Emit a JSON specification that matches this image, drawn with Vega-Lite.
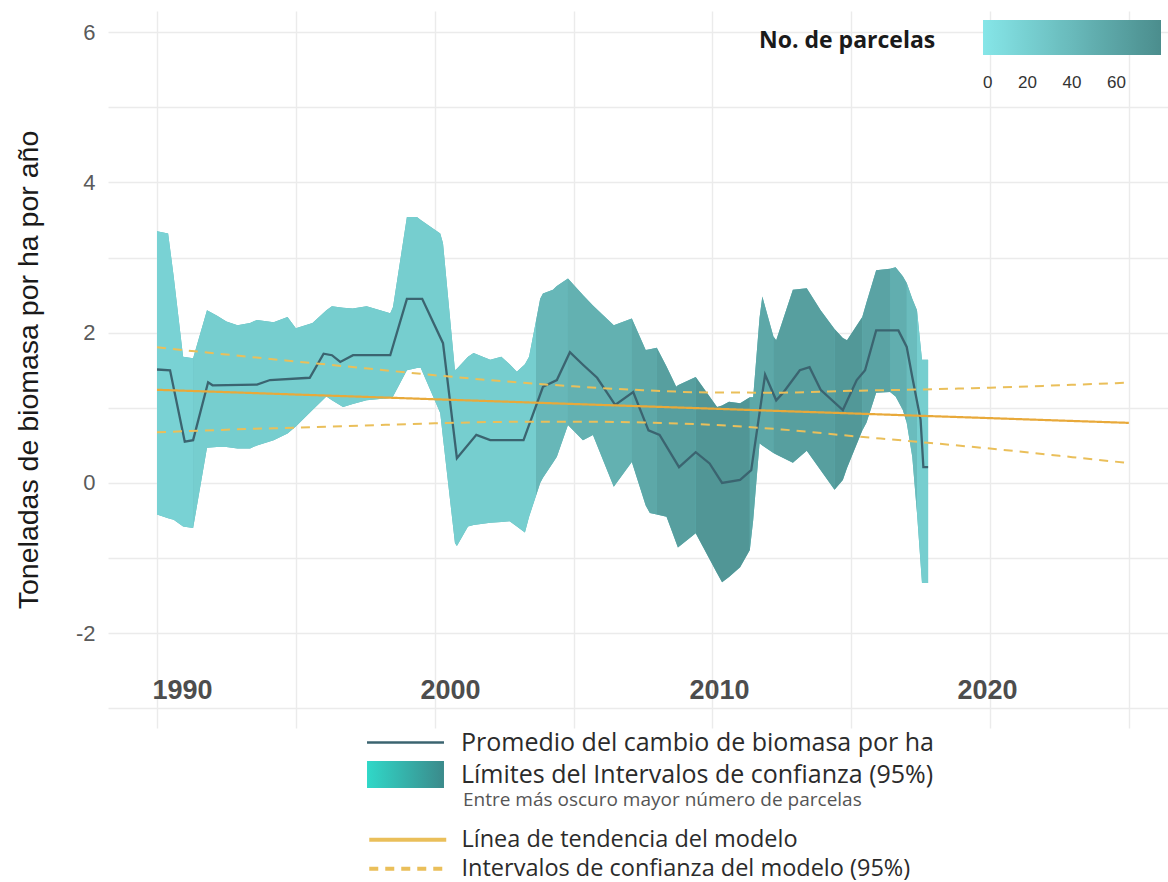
{
  "$schema": "https://vega.github.io/schema/vega-lite/v6.json",
  "width": 1060,
  "height": 717,
  "autosize": {"type": "none"},
  "padding": {"left": 108, "top": 11, "right": 0, "bottom": 154},
  "background": "white",
  "config": {"view": {"stroke": null}, "font": "Liberation Sans"},
  "datasets": {
    "band": [
      {"t": 1990.0, "hi": 3.35, "lo": -0.42, "g": "A", "n": 18},
      {"t": 1990.4, "hi": 3.32, "lo": -0.47, "g": "A", "n": 18},
      {"t": 1990.6, "hi": 2.75, "lo": -0.49, "g": "A", "n": 18},
      {"t": 1990.94, "hi": 1.68, "lo": -0.58, "g": "A", "n": 18},
      {"t": 1991.3, "hi": 1.66, "lo": -0.60, "g": "A", "n": 18},
      {"t": 1991.3, "hi": 1.66, "lo": -0.60, "g": "B", "n": 22},
      {"t": 1991.8, "hi": 2.30, "lo": 0.47, "g": "B", "n": 22},
      {"t": 1992.15, "hi": 2.23, "lo": 0.48, "g": "B", "n": 22},
      {"t": 1992.5, "hi": 2.15, "lo": 0.48, "g": "B", "n": 22},
      {"t": 1992.9, "hi": 2.10, "lo": 0.46, "g": "B", "n": 22},
      {"t": 1993.35, "hi": 2.13, "lo": 0.46, "g": "B", "n": 22},
      {"t": 1993.6, "hi": 2.17, "lo": 0.50, "g": "B", "n": 22},
      {"t": 1994.2, "hi": 2.14, "lo": 0.57, "g": "B", "n": 22},
      {"t": 1994.7, "hi": 2.21, "lo": 0.66, "g": "B", "n": 22},
      {"t": 1995.0, "hi": 2.06, "lo": 0.75, "g": "B", "n": 22},
      {"t": 1995.6, "hi": 2.13, "lo": 0.97, "g": "B", "n": 22},
      {"t": 1996.1, "hi": 2.30, "lo": 1.15, "g": "B", "n": 22},
      {"t": 1996.3, "hi": 2.35, "lo": 1.10, "g": "B", "n": 22},
      {"t": 1996.7, "hi": 2.33, "lo": 1.01, "g": "B", "n": 22},
      {"t": 1997.05, "hi": 2.32, "lo": 1.05, "g": "B", "n": 22},
      {"t": 1997.55, "hi": 2.35, "lo": 1.10, "g": "B", "n": 22},
      {"t": 1998.4, "hi": 2.26, "lo": 1.13, "g": "B", "n": 22},
      {"t": 1998.5, "hi": 2.34, "lo": 1.15, "g": "B", "n": 22},
      {"t": 1999.0, "hi": 3.54, "lo": 1.50, "g": "B", "n": 22},
      {"t": 1999.36, "hi": 3.54, "lo": 1.53, "g": "B", "n": 22},
      {"t": 1999.5, "hi": 3.50, "lo": 1.53, "g": "B", "n": 22},
      {"t": 2000.2, "hi": 3.32, "lo": 0.93, "g": "B", "n": 22},
      {"t": 2000.3, "hi": 3.19, "lo": 0.60, "g": "B", "n": 22},
      {"t": 2000.73, "hi": 1.50, "lo": -0.80, "g": "B", "n": 22},
      {"t": 2000.8, "hi": 1.52, "lo": -0.84, "g": "B", "n": 22},
      {"t": 2001.2, "hi": 1.68, "lo": -0.58, "g": "B", "n": 22},
      {"t": 2001.4, "hi": 1.73, "lo": -0.56, "g": "B", "n": 22},
      {"t": 2002.0, "hi": 1.64, "lo": -0.53, "g": "B", "n": 22},
      {"t": 2002.4, "hi": 1.68, "lo": -0.52, "g": "B", "n": 22},
      {"t": 2002.7, "hi": 1.58, "lo": -0.51, "g": "B", "n": 22},
      {"t": 2002.96, "hi": 1.48, "lo": -0.58, "g": "B", "n": 22},
      {"t": 2003.25, "hi": 1.58, "lo": -0.66, "g": "B", "n": 22},
      {"t": 2003.4, "hi": 1.68, "lo": -0.45, "g": "B", "n": 22},
      {"t": 2003.65, "hi": 2.16, "lo": -0.17, "g": "B", "n": 22},
      {"t": 2003.65, "hi": 2.16, "lo": -0.17, "g": "C", "n": 42},
      {"t": 2003.8, "hi": 2.45, "lo": 0.00, "g": "C", "n": 42},
      {"t": 2003.9, "hi": 2.52, "lo": 0.07, "g": "C", "n": 42},
      {"t": 2004.26, "hi": 2.57, "lo": 0.27, "g": "C", "n": 42},
      {"t": 2004.4, "hi": 2.62, "lo": 0.35, "g": "C", "n": 42},
      {"t": 2004.8, "hi": 2.72, "lo": 0.77, "g": "C", "n": 42},
      {"t": 2004.8, "hi": 2.72, "lo": 0.77, "g": "D", "n": 48},
      {"t": 2005.34, "hi": 2.50, "lo": 0.57, "g": "D", "n": 48},
      {"t": 2005.7, "hi": 2.36, "lo": 0.64, "g": "D", "n": 48},
      {"t": 2006.45, "hi": 2.10, "lo": -0.05, "g": "D", "n": 48},
      {"t": 2007.1, "hi": 2.19, "lo": 0.28, "g": "D", "n": 48},
      {"t": 2007.1, "hi": 2.19, "lo": 0.28, "g": "E", "n": 56},
      {"t": 2007.6, "hi": 1.77, "lo": -0.30, "g": "E", "n": 56},
      {"t": 2007.75, "hi": 1.78, "lo": -0.40, "g": "E", "n": 56},
      {"t": 2008.0, "hi": 1.80, "lo": -0.42, "g": "E", "n": 56},
      {"t": 2008.0, "hi": 1.80, "lo": -0.42, "g": "F", "n": 64},
      {"t": 2008.35, "hi": 1.55, "lo": -0.45, "g": "F", "n": 64},
      {"t": 2008.7, "hi": 1.28, "lo": -0.80, "g": "F", "n": 64},
      {"t": 2008.76, "hi": 1.30, "lo": -0.86, "g": "F", "n": 64},
      {"t": 2009.4, "hi": 1.41, "lo": -0.67, "g": "F", "n": 64},
      {"t": 2009.4, "hi": 1.41, "lo": -0.67, "g": "G", "n": 72},
      {"t": 2010.17, "hi": 1.01, "lo": -1.20, "g": "G", "n": 72},
      {"t": 2010.35, "hi": 1.03, "lo": -1.32, "g": "G", "n": 72},
      {"t": 2010.6, "hi": 1.08, "lo": -1.25, "g": "G", "n": 72},
      {"t": 2011.0, "hi": 1.06, "lo": -1.12, "g": "G", "n": 72},
      {"t": 2011.35, "hi": 1.14, "lo": -0.89, "g": "G", "n": 72},
      {"t": 2011.35, "hi": 1.14, "lo": -0.89, "g": "H", "n": 56},
      {"t": 2011.47, "hi": 1.14, "lo": -0.50, "g": "H", "n": 56},
      {"t": 2011.7, "hi": 2.20, "lo": 0.53, "g": "H", "n": 56},
      {"t": 2011.8, "hi": 2.48, "lo": 0.50, "g": "H", "n": 56},
      {"t": 2012.2, "hi": 1.95, "lo": 0.40, "g": "H", "n": 56},
      {"t": 2012.2, "hi": 1.95, "lo": 0.40, "g": "I", "n": 64},
      {"t": 2012.3, "hi": 1.90, "lo": 0.38, "g": "I", "n": 64},
      {"t": 2012.9, "hi": 2.57, "lo": 0.27, "g": "I", "n": 64},
      {"t": 2013.4, "hi": 2.59, "lo": 0.43, "g": "I", "n": 64},
      {"t": 2013.9, "hi": 2.30, "lo": 0.17, "g": "I", "n": 64},
      {"t": 2014.4, "hi": 2.05, "lo": -0.09, "g": "I", "n": 64},
      {"t": 2014.4, "hi": 2.05, "lo": -0.09, "g": "J", "n": 70},
      {"t": 2014.7, "hi": 1.93, "lo": 0.04, "g": "J", "n": 70},
      {"t": 2014.85, "hi": 1.90, "lo": 0.20, "g": "J", "n": 70},
      {"t": 2015.4, "hi": 2.21, "lo": 0.70, "g": "J", "n": 70},
      {"t": 2015.4, "hi": 2.21, "lo": 0.70, "g": "K", "n": 60},
      {"t": 2015.55, "hi": 2.40, "lo": 0.80, "g": "K", "n": 60},
      {"t": 2015.9, "hi": 2.83, "lo": 1.20, "g": "K", "n": 60},
      {"t": 2016.4, "hi": 2.85, "lo": 1.21, "g": "K", "n": 60},
      {"t": 2016.4, "hi": 2.85, "lo": 1.21, "g": "L", "n": 50},
      {"t": 2016.6, "hi": 2.87, "lo": 1.15, "g": "L", "n": 50},
      {"t": 2016.86, "hi": 2.75, "lo": 0.97, "g": "L", "n": 50},
      {"t": 2017.0, "hi": 2.66, "lo": 0.80, "g": "L", "n": 50},
      {"t": 2017.0, "hi": 2.66, "lo": 0.80, "g": "M", "n": 38},
      {"t": 2017.2, "hi": 2.45, "lo": 0.35, "g": "M", "n": 38},
      {"t": 2017.37, "hi": 2.30, "lo": -0.40, "g": "M", "n": 38},
      {"t": 2017.37, "hi": 2.30, "lo": -0.40, "g": "N", "n": 22},
      {"t": 2017.55, "hi": 1.64, "lo": -1.33, "g": "N", "n": 22},
      {"t": 2017.77, "hi": 1.64, "lo": -1.33, "g": "N", "n": 22}
    ],
    "mean": [
      {"t": 1990.0, "m": 1.51}, {"t": 1990.47, "m": 1.50}, {"t": 1991.0, "m": 0.55},
      {"t": 1991.3, "m": 0.57}, {"t": 1991.84, "m": 1.34}, {"t": 1992.0, "m": 1.30},
      {"t": 1993.6, "m": 1.31}, {"t": 1994.07, "m": 1.37}, {"t": 1995.5, "m": 1.40},
      {"t": 1996.0, "m": 1.72}, {"t": 1996.3, "m": 1.70}, {"t": 1996.6, "m": 1.61},
      {"t": 1997.06, "m": 1.70}, {"t": 1998.4, "m": 1.70}, {"t": 1999.0, "m": 2.45},
      {"t": 1999.55, "m": 2.45}, {"t": 2000.3, "m": 1.86}, {"t": 2000.8, "m": 0.33},
      {"t": 2001.5, "m": 0.64}, {"t": 2002.0, "m": 0.57}, {"t": 2003.2, "m": 0.57},
      {"t": 2003.9, "m": 1.28}, {"t": 2004.4, "m": 1.37}, {"t": 2004.87, "m": 1.74},
      {"t": 2005.35, "m": 1.57}, {"t": 2005.85, "m": 1.40}, {"t": 2006.5, "m": 1.04},
      {"t": 2007.15, "m": 1.21}, {"t": 2007.7, "m": 0.70}, {"t": 2008.1, "m": 0.64},
      {"t": 2008.8, "m": 0.21}, {"t": 2009.4, "m": 0.41}, {"t": 2009.9, "m": 0.26},
      {"t": 2010.35, "m": 0.00}, {"t": 2011.0, "m": 0.04}, {"t": 2011.4, "m": 0.17},
      {"t": 2011.9, "m": 1.44}, {"t": 2012.3, "m": 1.10}, {"t": 2012.55, "m": 1.20},
      {"t": 2013.15, "m": 1.50}, {"t": 2013.5, "m": 1.54}, {"t": 2013.9, "m": 1.24},
      {"t": 2014.7, "m": 0.97}, {"t": 2015.2, "m": 1.37}, {"t": 2015.5, "m": 1.50},
      {"t": 2015.9, "m": 2.03}, {"t": 2016.7, "m": 2.03}, {"t": 2017.0, "m": 1.81},
      {"t": 2017.2, "m": 1.41}, {"t": 2017.5, "m": 0.84}, {"t": 2017.6, "m": 0.21},
      {"t": 2017.77, "m": 0.21}
    ],
    "trend": [
      {"t": 1990.0, "fit": 1.240, "upr": 1.805, "lwr": 0.675},
      {"t": 1992.5, "fit": 1.209, "upr": 1.709, "lwr": 0.709},
      {"t": 1995.0, "fit": 1.177, "upr": 1.617, "lwr": 0.737},
      {"t": 1997.5, "fit": 1.146, "upr": 1.526, "lwr": 0.766},
      {"t": 2000.0, "fit": 1.114, "upr": 1.434, "lwr": 0.794},
      {"t": 2002.5, "fit": 1.083, "upr": 1.353, "lwr": 0.813},
      {"t": 2005.0, "fit": 1.051, "upr": 1.286, "lwr": 0.816},
      {"t": 2007.5, "fit": 1.020, "upr": 1.235, "lwr": 0.805},
      {"t": 2010.0, "fit": 0.989, "upr": 1.204, "lwr": 0.774},
      {"t": 2012.5, "fit": 0.957, "upr": 1.202, "lwr": 0.712},
      {"t": 2015.0, "fit": 0.926, "upr": 1.226, "lwr": 0.626},
      {"t": 2017.5, "fit": 0.894, "upr": 1.244, "lwr": 0.544},
      {"t": 2020.0, "fit": 0.863, "upr": 1.268, "lwr": 0.458},
      {"t": 2022.5, "fit": 0.831, "upr": 1.300, "lwr": 0.362},
      {"t": 2025.0, "fit": 0.800, "upr": 1.335, "lwr": 0.265}
    ]
  },
  "layer": [
    {
      "data": {"name": "band"},
      "mark": {"type": "area", "color": "#64b8ba", "strokeWidth": 0},
      "encoding": {
        "x": {
          "field": "t", "type": "quantitative", "title": null,
          "scale": {"domain": [1988.235, 2026.41], "nice": false, "zero": false},
          "axis": {
            "values": [1990, 1990.9, 1995, 2000, 2000.55, 2005, 2010, 2010.24, 2015, 2019.89, 2020, 2025],
            "title": null, "domain": false, "ticks": false, "grid": true,
            "gridColor": "#ebebeb", "gridWidth": 1.4,
            "gridOpacity": {"condition": {"test": "datum.value % 5 != 0", "value": 0}, "value": 1},
            "labelExpr": "datum.value % 5 != 0 ? format(round(datum.value / 10) * 10, 'd') : ''",
            "labelFont": "Liberation Sans", "labelFontSize": 27, "labelFontWeight": "bold",
            "labelColor": "#4d4d4d", "labelPadding": -38, "labelBaseline": "middle",
            "labelFlush": false, "labelOverlap": false, "labelBound": false
          }
        },
        "y": {
          "field": "lo", "type": "quantitative", "title": "Toneladas de biomasa por ha por año",
          "scale": {"domain": [-3.26, 6.28], "nice": false, "zero": false},
          "axis": {
            "values": [-3, -2, -1, 0, 1, 2, 3, 4, 5, 6],
            "labelExpr": "datum.value % 2 === 0 ? '' + datum.value : ''",
            "titleFont": "Liberation Sans", "titleFontSize": 28.5, "titleFontWeight": "normal",
            "titleColor": "#1a1a1a", "titlePadding": 32,
            "labelFont": "Liberation Sans", "labelFontSize": 22, "labelColor": "#5a5a5a",
            "labelPadding": 13, "ticks": false, "domain": false,
            "gridColor": "#ebebeb", "gridWidth": 1.4
          }
        },
        "y2": {"field": "hi"}
      }
    },
    {
      "data": {"name": "band"},
      "mark": {"type": "area", "strokeWidth": 0},
      "encoding": {
        "x": {"field": "t", "type": "quantitative", "title": null, "scale": {"domain": [1988.235, 2026.41], "nice": false, "zero": false}},
        "y": {"field": "lo", "type": "quantitative", "title": "Toneladas de biomasa por ha por año", "scale": {"domain": [-3.26, 6.28], "nice": false, "zero": false}},
        "y2": {"field": "hi"},
        "detail": {"field": "g"},
        "color": {
          "field": "n", "type": "quantitative",
          "scale": {"domain": [0, 80], "range": ["#86e6e8", "#4b8d8d"], "interpolate": "rgb", "nice": false, "zero": false},
          "legend": {
            "orient": "none", "legendX": 651, "legendY": 9, "direction": "horizontal",
            "title": "No. de parcelas", "titleOrient": "left", "titleFont": "Open Sans",
            "titleFontSize": 23, "titleFontWeight": "bold", "titleColor": "#1a1a1a",
            "titleLimit": 400, "titlePadding": 47, "titleBaseline": "middle",
            "gradientLength": 178, "gradientThickness": 35, "gradientStrokeWidth": 0,
            "values": [0, 20, 40, 60],
            "labelFont": "Liberation Sans", "labelFontSize": 17, "labelColor": "#333333", "labelOffset": 20,
            "encode": {"title": {"update": {"dy": {"value": 3}}}}
          }
        }
      }
    },
    {
      "mark": {"type": "rule", "color": "#000000", "strokeWidth": 2},
      "encoding": {"y": {"datum": 0, "type": "quantitative", "title": "Toneladas de biomasa por ha por año", "scale": {"domain": [-3.26, 6.28], "nice": false, "zero": false}}}
    },
    {
      "data": {"name": "mean"},
      "mark": {"type": "line", "strokeWidth": 2.3},
      "encoding": {
        "x": {"field": "t", "type": "quantitative", "title": null, "scale": {"domain": [1988.235, 2026.41], "nice": false, "zero": false}},
        "y": {"field": "m", "type": "quantitative", "title": "Toneladas de biomasa por ha por año", "scale": {"domain": [-3.26, 6.28], "nice": false, "zero": false}},
        "stroke": {
          "datum": "Promedio del cambio de biomasa por ha", "type": "nominal",
          "scale": {"domain": ["Promedio del cambio de biomasa por ha", "Límites del Intervalos de confianza (95%)"], "range": ["#3b6470", "transparent"]},
          "legend": {
            "orient": "none", "legendX": 254, "legendY": 719,
            "title": "Entre más oscuro mayor número de parcelas",
            "titleOrient": "bottom", "titleAnchor": "start", "titleFont": "Open Sans",
            "titleFontSize": 19, "titleFontWeight": "normal", "titleColor": "#555555",
            "titleLimit": 700, "titlePadding": -2,
            "labelFont": "Open Sans", "labelFontSize": 25, "labelColor": "#2b2b2b",
            "labelLimit": 800, "labelOffset": 43,
            "symbolType": "M-5,0H5", "symbolSize": 237, "symbolOffset": 31,
            "rowPadding": 0,
            "encode": {
              "symbols": {"update": {
                "shape": [{"test": "datum.index === 1", "value": "M-5,-1.75H5V1.75H-5Z"}, {"value": "M-5,0H5"}],
                "fill": [{"test": "datum.index === 1", "value": {"gradient": "linear", "x1": 0, "y1": 0, "x2": 1, "y2": 0, "stops": [{"offset": 0, "color": "#30d8c8"}, {"offset": 1, "color": "#3b8a8b"}]}}, {"value": "transparent"}],
                "strokeWidth": {"value": 2.5},
                "opacity": {"value": 1}
              }},
              "title": {"update": {"dx": {"value": 101}}}
            }
          }
        }
      }
    },
    {
      "data": {"name": "trend"},
      "transform": [{"fold": ["upr", "lwr"], "as": ["k", "v"]}],
      "mark": {"type": "line", "color": "#eabf5a", "strokeWidth": 2, "interpolate": "monotone"},
      "encoding": {
        "x": {"field": "t", "type": "quantitative", "title": null, "scale": {"domain": [1988.235, 2026.41], "nice": false, "zero": false}},
        "y": {"field": "v", "type": "quantitative", "title": "Toneladas de biomasa por ha por año", "scale": {"domain": [-3.26, 6.28], "nice": false, "zero": false}},
        "detail": {"field": "k"},
        "strokeDash": {
          "datum": "Intervalos de confianza del modelo (95%)", "type": "nominal",
          "scale": {"domain": ["Línea de tendencia del modelo", "Intervalos de confianza del modelo (95%)"], "range": [[1, 0], [9, 7]]}
        }
      }
    },
    {
      "data": {"name": "trend"},
      "mark": {"type": "line", "color": "#e8a93a", "strokeWidth": 2.2},
      "encoding": {
        "x": {"field": "t", "type": "quantitative", "title": null, "scale": {"domain": [1988.235, 2026.41], "nice": false, "zero": false}},
        "y": {"field": "fit", "type": "quantitative", "title": "Toneladas de biomasa por ha por año", "scale": {"domain": [-3.26, 6.28], "nice": false, "zero": false}},
        "strokeDash": {
          "datum": "Línea de tendencia del modelo", "type": "nominal",
          "scale": {"domain": ["Línea de tendencia del modelo", "Intervalos de confianza del modelo (95%)"], "range": [[1, 0], [9, 7]]},
          "legend": {
            "orient": "none", "legendX": 257, "legendY": 817, "title": null,
            "labelFont": "Open Sans", "labelFontSize": 23.5, "labelColor": "#2b2b2b",
            "labelLimit": 800, "labelOffset": 42,
            "symbolType": "M-5,0H5", "symbolSize": 237, "symbolOffset": 31, "rowPadding": 4,
            "symbolStrokeColor": "#f0d38c", "symbolStrokeWidth": 4
          }
        }
      }
    }
  ]
}
